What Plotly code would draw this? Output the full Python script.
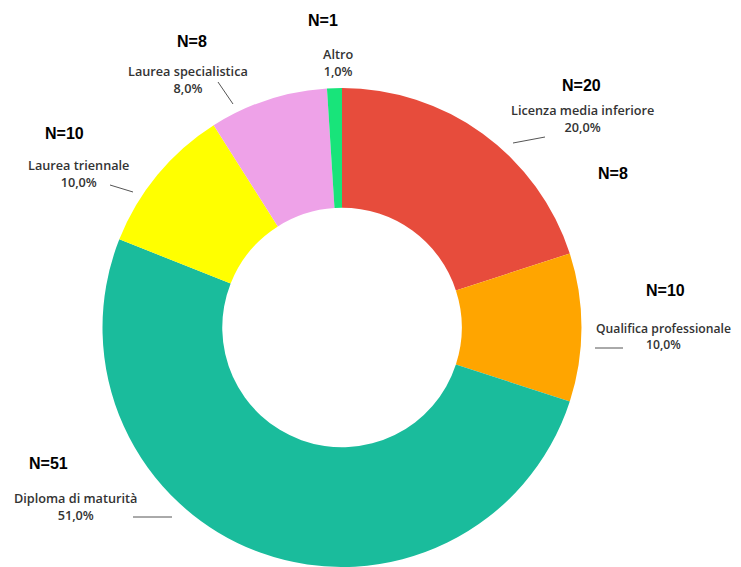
import plotly.graph_objects as go

categories = ["Licenza media inferiore", "Qualifica professionale", "Diploma di maturità",
              "Laurea triennale", "Laurea specialistica", "Altro"]
percent = [20.0, 10.0, 51.0, 10.0, 8.0, 1.0]
counts = [20, 10, 51, 10, 8, 1]
colors = ["#E74C3C", "#FFA500", "#1ABC9C", "#FFFF00", "#EEA2E8", "#18E47A"]

OFF = 8  # page body margin
W, H = 741 - OFF, 567 - OFF

def px(x):
    return (x - OFF) / W

def py(y):
    return 1 - (y - OFF) / H

fig = go.Figure(go.Pie(
    labels=categories, values=percent, sort=False, direction="clockwise", rotation=0,
    hole=0.5, marker=dict(colors=colors, line=dict(width=0)), textinfo="none",
    hoverinfo="label+percent", showlegend=False,
    domain=dict(x=[px(342 - 240.5), px(342 + 240.5)], y=[0.0, py(88)]),
))

# label positions (pixel centres) per category
lab_pos = [(582, 119), (663, 336), (75, 506), (78, 173), (188, 79), (338, 63)]
n_pos = [(581, 85), (665, 290), (48, 463), (65, 133), (192, 42), (323, 20)]
lab_size = [12.7, 12.2, 12.7, 12.7, 12.7, 12.7]
lines = [((513, 143), (545, 137)), ((595, 348), (623, 348)), ((133, 517), (172, 517)),
         ((110, 185), (133, 192)), ((218, 82), (233, 104)), None]

ann = []
for cat, p, n, lp, npos, fs in zip(categories, percent, counts, lab_pos, n_pos, lab_size):
    ann.append(dict(x=px(lp[0]), y=py(lp[1]), xref="paper", yref="paper",
                    xanchor="center", yanchor="middle",
                    text=f"{cat}<br>{p:.1f}%".replace(".", ","), showarrow=False,
                    font=dict(family="Open Sans", size=fs, color="#333333", weight=600),
                    align="center"))
    ann.append(dict(x=px(npos[0]), y=py(npos[1]), xref="paper", yref="paper",
                    xanchor="center", yanchor="middle",
                    text=f"N={n}", showarrow=False,
                    font=dict(family="Liberation Sans", size=16, color="#000000", weight="bold")))
# extra stray label
ann.append(dict(x=px(613), y=py(173), xref="paper", yref="paper", xanchor="center",
                yanchor="middle", text="N=8", showarrow=False,
                font=dict(family="Liberation Sans", size=16, color="#000000", weight="bold")))

shapes = []
for ln in lines:
    if ln is None:
        continue
    (x0, y0), (x1, y1) = ln
    shapes.append(dict(type="line", xref="paper", yref="paper", x0=px(x0), y0=py(y0),
                       x1=px(x1), y1=py(y1), line=dict(color="#555555", width=1)))

fig.update_layout(width=W, height=H, margin=dict(l=0, r=0, t=0, b=0),
                  paper_bgcolor="white", plot_bgcolor="white",
                  annotations=ann, shapes=shapes)
fig.write_html("out.html")
